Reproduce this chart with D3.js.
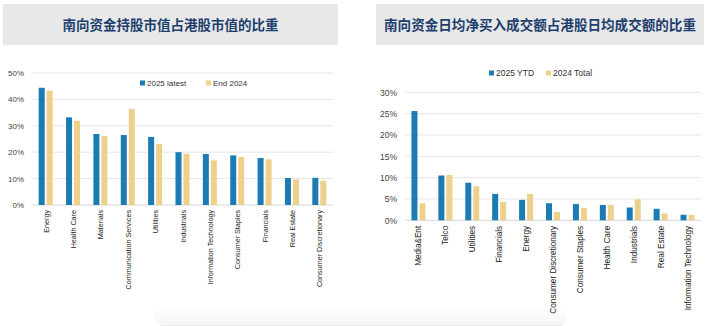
<!DOCTYPE html>
<html>
<head>
<meta charset="utf-8">
<script src="https://cdn.jsdelivr.net/npm/d3@7"></script>
<style>
  html, body { margin: 0; padding: 0; background: #fff; }
  svg { display: block; }
</style>
</head>
<body>
<svg id="chart" width="708" height="326"></svg>
<script>
// Southbound holdings as share of HK market cap, by sector
const holdCategories = ["Energy", "Health Care", "Materials", "Communication Services", "Utilities",
  "Industrials", "Information Technology", "Consumer Staples", "Financials", "Real Estate",
  "Consumer Discretionary"];
const hold2025 = [44.4, 33.2, 26.9, 26.5, 25.8, 20.0, 19.3, 18.8, 17.8, 10.2, 10.3];
const hold2024 = [43.3, 31.9, 26.1, 36.4, 23.1, 19.4, 16.9, 18.2, 17.3, 9.7, 9.2];
const holdTicks = [0, 10, 20, 30, 40, 50];
const holdSeries = ["2025 latest", "End 2024"];

// Southbound daily net buying as share of HK daily turnover, by sector
const flowCategories = ["Media&Ent", "Telco", "Utilities", "Financials", "Energy",
  "Consumer Discretionary", "Consumer Staples", "Health Care", "Industrials", "Real Estate",
  "Information Technology"];
const flow2025 = [25.6, 10.5, 8.8, 6.2, 4.8, 4.0, 3.8, 3.6, 3.0, 2.7, 1.3];
const flow2024 = [4.0, 10.6, 8.0, 4.3, 6.2, 1.95, 2.9, 3.6, 4.9, 1.6, 1.3];
const flowTicks = [0, 5, 10, 15, 20, 25, 30];
const flowSeries = ["2025 YTD", "2024 Total"];

const BLUE = "#1b7bb3";
const GOLD = "#edd08c";
const FONT = "'Liberation Sans', Arial, sans-serif";

const svg = d3.select("#chart");

// faint card shadow along the bottom
const defs = svg.append("defs");
const grad = defs.append("linearGradient").attr("id", "shade").attr("x1", 0).attr("y1", 0).attr("x2", 0).attr("y2", 1);
grad.append("stop").attr("offset", "0%").attr("stop-color", "#ffffff");
grad.append("stop").attr("offset", "100%").attr("stop-color", "#f5f5f5");
svg.append("rect").attr("x", 155).attr("y", 305).attr("width", 412).attr("height", 20)
  .attr("rx", 8).attr("fill", "url(#shade)");
svg.append("line").attr("x1", 160).attr("x2", 562).attr("y1", 325.5).attr("y2", 325.5)
  .attr("stroke", "#ebebeb").attr("stroke-width", 1);

function titleBanner(x0, x1, text, size, width) {
  svg.append("rect").attr("x", x0).attr("y", 4).attr("width", x1 - x0).attr("height", 41)
    .attr("fill", "#e8e8e8");
  svg.append("text").attr("x", (x0 + x1) / 2).attr("y", 30)
    .attr("text-anchor", "middle")
    .attr("font-family", "'Noto Sans CJK SC', sans-serif")
    .attr("font-weight", "bold").attr("font-size", size)
    .attr("textLength", width).attr("lengthAdjust", "spacingAndGlyphs")
    .attr("fill", "#1d3f6e")
    .text(text);
}

function barChart(opt) {
  const x = d3.scaleBand().domain(opt.categories).range([opt.left, opt.right]).paddingInner(0).paddingOuter(0);
  const y = d3.scaleLinear().domain([0, opt.max]).range([opt.bottom, opt.top]);
  const g = svg.append("g");

  // gridlines
  g.selectAll("line.grid").data(opt.ticks).join("line")
    .attr("x1", opt.left).attr("x2", opt.right)
    .attr("y1", d => y(d)).attr("y2", d => y(d))
    .attr("stroke", d => d === 0 ? "#d6d6d6" : "#e6e6e6").attr("stroke-width", 1);

  // y axis labels
  const yAxis = d3.axisLeft(y).tickValues(opt.ticks).tickFormat(d => d + "%").tickSize(0).tickPadding(0);
  const ya = g.append("g").attr("transform", `translate(${opt.labelX},0)`).call(yAxis);
  ya.select(".domain").remove();
  ya.selectAll("text").attr("font-family", FONT).attr("font-size", opt.yFont).attr("fill", "#444");

  // bars
  const bw = opt.barW, gap = opt.gap;
  const groups = g.selectAll("g.cat").data(opt.categories).join("g")
    .attr("transform", d => `translate(${x(d) + x.bandwidth() / 2},0)`);
  groups.append("rect")
    .attr("x", -bw - gap / 2).attr("width", bw)
    .attr("y", (d, i) => y(opt.a[i])).attr("height", (d, i) => y(0) - y(opt.a[i]))
    .attr("fill", BLUE);
  groups.append("rect")
    .attr("x", gap / 2).attr("width", bw)
    .attr("y", (d, i) => y(opt.b[i])).attr("height", (d, i) => y(0) - y(opt.b[i]))
    .attr("fill", GOLD);

  // rotated category labels
  groups.append("text")
    .attr("transform", `translate(${3},${opt.bottom + opt.labelGap}) rotate(-90)`)
    .attr("text-anchor", "end")
    .attr("font-family", FONT).attr("font-size", opt.xFont).attr("fill", "#222")
    .text(d => d);

  // legend
  const lg = g.append("g");
  opt.series.forEach((s, i) => {
    const lx = opt.legendX[i];
    lg.append("rect").attr("x", lx).attr("y", opt.legendY - 3.5).attr("width", 5).attr("height", 5)
      .attr("fill", i === 0 ? BLUE : GOLD);
    lg.append("text").attr("x", lx + 7).attr("y", opt.legendY + 1.5)
      .attr("font-family", FONT).attr("font-size", opt.legendFont).attr("fill", "#333")
      .text(s);
  });
}

titleBanner(3, 338, "南向资金持股市值占港股市值的比重", 13.5, 216);
titleBanner(376, 704, "南向资金日均净买入成交额占港股日均成交额的比重", 14, 312);

barChart({
  categories: holdCategories, a: hold2025, b: hold2024, ticks: holdTicks, series: holdSeries,
  max: 50, left: 32, right: 333, top: 73, bottom: 205, labelX: 24,
  barW: 6, gap: 2, yFont: 8, xFont: 7.2, labelGap: 5,
  legendX: [140, 206], legendY: 84, legendFont: 8
});

barChart({
  categories: flowCategories, a: flow2025, b: flow2024, ticks: flowTicks, series: flowSeries,
  max: 30, left: 405, right: 701, top: 92.3, bottom: 220.3, labelX: 397,
  barW: 6, gap: 2, yFont: 8.5, xFont: 8.2, labelGap: 5.5,
  legendX: [489, 546], legendY: 74, legendFont: 8.5
});
</script>
</body>
</html>
